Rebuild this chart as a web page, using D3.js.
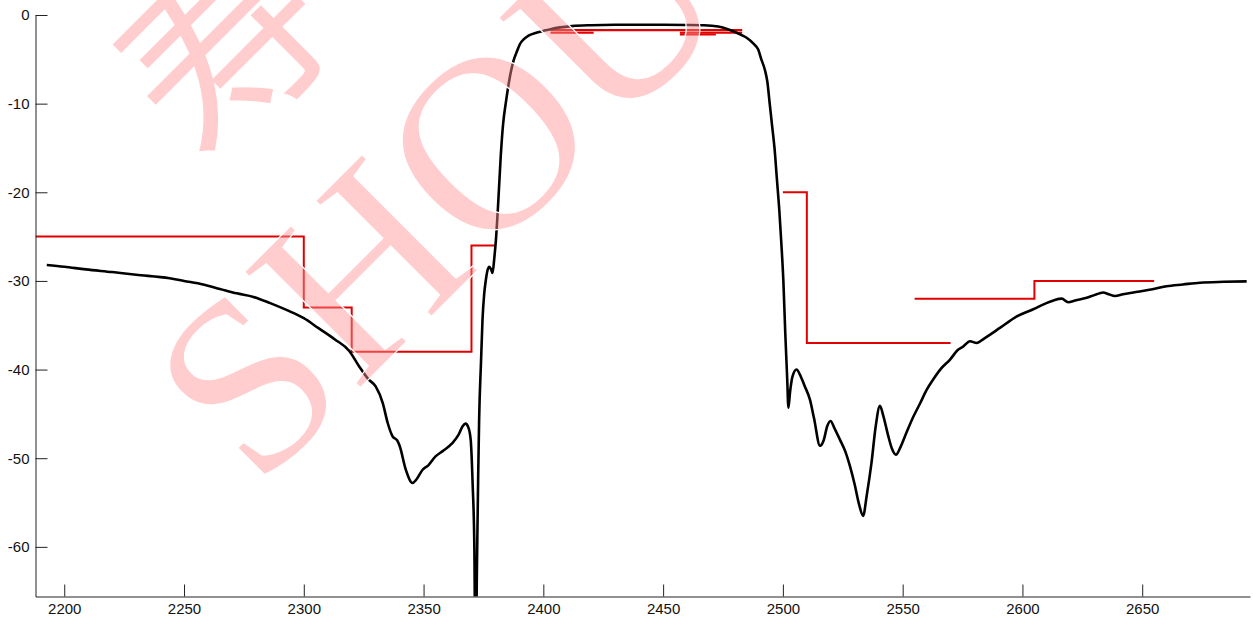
<!DOCTYPE html>
<html>
<head>
<meta charset="utf-8">
<script src="https://cdn.jsdelivr.net/npm/d3@7"></script>
<style>
  body { margin: 0; background: #fff; }
  svg { display: block; }
  .tick text { font-family: "Liberation Sans", Arial, sans-serif; font-size: 15px; fill: #111; }
  .domain, .tick line { stroke: #222; }
</style>
</head>
<body>
<div id="chart"></div>
<script>
// filter response, MHz / dB
var freq = [2192.7, 2200, 2209, 2220, 2230, 2244, 2250, 2258, 2265, 2272, 2279, 2286, 2293, 2300,
  2306, 2313, 2319, 2323, 2327, 2330, 2333, 2335, 2337, 2339, 2340, 2342.6, 2345.4, 2347, 2349.6,
  2352, 2355, 2358, 2362, 2364.5, 2366.3, 2367.5, 2368.8, 2369.7, 2370.5, 2371.2, 2371.7, 2372.3,
  2372.8, 2373.2, 2374, 2374.6, 2375.3, 2376, 2376.7, 2377.4, 2378.2, 2378.8, 2379.5, 2380.2,
  2381.2, 2382.2, 2383.2, 2384.5, 2386.3, 2387.5, 2389, 2390.2, 2392, 2394, 2397, 2400, 2403, 2407,
  2412, 2420, 2430, 2440, 2450, 2460, 2467, 2473, 2477, 2480.7, 2483, 2485, 2487.6, 2489.7, 2491,
  2492.5, 2493.5, 2494.5, 2495.5, 2496.5, 2497.5, 2498.5, 2499.3, 2500.2, 2501, 2501.8, 2502.3, 2503, 2504, 2505.7,
  2507, 2509, 2511.3, 2513, 2515.5, 2517, 2518.5, 2519.9, 2521.5, 2523.8, 2526, 2528, 2530, 2531.8,
  2533.5, 2535, 2537, 2538.7, 2540.5, 2542, 2544, 2545.5, 2547.2, 2549, 2551.6, 2554.5, 2557.3,
  2560, 2562.8, 2566, 2569.7, 2573, 2575.3, 2578.1, 2580.9, 2584, 2590.6, 2597, 2604.5, 2610,
  2613, 2616.4, 2619.1, 2622, 2626.8, 2630, 2633.7, 2636, 2638.6, 2642, 2646.3, 2653, 2660.2,
  2667, 2674.1, 2684, 2693.6];
var resp = [-28.2, -28.4, -28.7, -29.0, -29.3, -29.7, -30.0, -30.4, -30.9, -31.4, -31.8, -32.5, -33.3, -34.2,
  -35.3, -36.6, -37.9, -39.6, -41.1, -41.9, -43.8, -46.0, -47.5, -48.0, -48.6, -51.3, -52.8, -52.4, -51.3,
  -50.8, -49.8, -49.2, -48.3, -47.4, -46.4, -46.1, -46.6, -48.0, -53, -60, -75, -62,
  -52, -45.6, -39, -34.4, -31.5, -29.9, -28.8, -28.4, -28.7, -29.1, -27.5, -25.4,
  -21, -16, -12.3, -9.6, -6.6, -5.2, -4.1, -3.3, -2.7, -2.3, -2.0, -1.8, -1.6, -1.4,
  -1.25, -1.15, -1.1, -1.1, -1.1, -1.12, -1.15, -1.3, -1.6, -2.0, -2.3, -2.6, -3.2, -3.9, -5.0,
  -6.2, -7.5, -10, -12.5, -15, -18.5, -22, -25.5, -30, -35.9, -41, -44.3, -42.5, -40.8, -40.0,
  -40.5, -41.8, -43.4, -45.5, -48.6, -48.0, -46.4, -45.8, -46.6, -47.9, -49.2, -50.9, -53, -55.2,
  -56.5, -54.2, -50.5, -46.5, -44.1, -45.3, -47.5, -48.9, -49.6, -48.8, -47.1, -45.3, -43.8,
  -42.3, -41.1, -39.9, -38.9, -37.8, -37.4, -36.8, -37.0, -36.5, -35.3, -34.1, -33.2, -32.5,
  -32.2, -32.0, -32.4, -32.2, -31.9, -31.6, -31.3, -31.5, -31.7, -31.5, -31.3, -31.0, -30.6,
  -30.4, -30.2, -30.1, -30.05];

// spec masks
var maskLowF = [2188, 2300, 2300, 2320, 2320, 2370, 2370, 2380];
var maskLowDb = [-25, -25, -33, -33, -38, -38, -26, -26];
var maskHighF = [2500, 2510, 2510, 2570];
var maskHighDb = [-20, -20, -37, -37];
var maskFarF = [2555, 2605, 2605, 2655];
var maskFarDb = [-32, -32, -30, -30];
var passStart = [2403, 2403, 2457, 2457];
var passEnd = [2483, 2421, 2483, 2472];
var passDb = [-1.7, -2.0, -2.0, -2.2];

var xTicks = [2200, 2250, 2300, 2350, 2400, 2450, 2500, 2550, 2600, 2650];
var yTicks = [0, -10, -20, -30, -40, -50, -60];

(function(){
  var width = 1253, height = 621;
  var left = 35.5, right = 1250, top = 15, bottom = 596.5;

  var svg = d3.select('#chart').append('svg')
    .attr('width', width)
    .attr('height', height);

  var x = d3.scaleLinear().domain([2188, 2695]).range([left, right]);
  var y = d3.scaleLinear().domain([-65.6, 0]).range([bottom, top]);

  svg.append('defs').append('clipPath')
    .attr('id', 'plot-clip')
    .append('rect')
    .attr('x', left)
    .attr('y', top)
    .attr('width', right - left)
    .attr('height', bottom - top);

  var plot = svg.append('g').attr('clip-path', 'url(#plot-clip)');

  var line = d3.line()
    .x(function(d){ return x(d[0]); })
    .y(function(d){ return y(d[1]); });

  function steps(fs, dbs) {
    return fs.map(function(f, i){ return [f, dbs[i]]; });
  }

  [steps(maskLowF, maskLowDb), steps(maskHighF, maskHighDb), steps(maskFarF, maskFarDb)].forEach(function(pts){
    plot.append('path')
      .attr('d', line(pts))
      .attr('fill', 'none')
      .attr('stroke', '#e00000')
      .attr('stroke-width', 2);
  });

  passDb.forEach(function(db, i){
    plot.append('path')
      .attr('d', line([[passStart[i], db], [passEnd[i], db]]))
      .attr('fill', 'none')
      .attr('stroke', '#e00000')
      .attr('stroke-width', 2.2);
  });

  plot.append('path')
    .attr('d', line.curve(d3.curveMonotoneX)(steps(freq, resp)))
    .attr('fill', 'none')
    .attr('stroke', '#000')
    .attr('stroke-width', 2.6)
    .attr('stroke-linejoin', 'round');

  svg.append('g')
    .attr('transform', 'translate(0,' + bottom + ')')
    .call(d3.axisBottom(x).tickValues(xTicks).tickSizeInner(-12).tickSizeOuter(0).tickPadding(7)
      .tickFormat(function(d){ return String(d); }));

  svg.append('g')
    .attr('transform', 'translate(' + left + ',0)')
    .call(d3.axisLeft(y).tickValues(yTicks).tickSizeInner(-12).tickSizeOuter(0).tickPadding(6)
      .tickFormat(function(d){ return String(d); }));

  // watermark
  var wm = svg.append('g')
    .attr('transform', 'translate(257,491) rotate(-45)')
    .attr('fill', '#ff9090')
    .attr('fill-opacity', 0.45)
    .attr('stroke', '#fff')
    .attr('stroke-width', 1.2);

  wm.append('text')
    .attr('x', 0)
    .attr('y', 0)
    .attr('font-family', '"Liberation Serif", "DejaVu Serif", serif')
    .attr('font-size', 250)
    .text('SHOU');

  wm.append('text')
    .attr('x', 190)
    .attr('y', -264)
    .attr('font-family', '"Noto Sans CJK SC", sans-serif')
    .attr('font-size', 205)
    .text('寿');
})();
</script>
</body>
</html>
